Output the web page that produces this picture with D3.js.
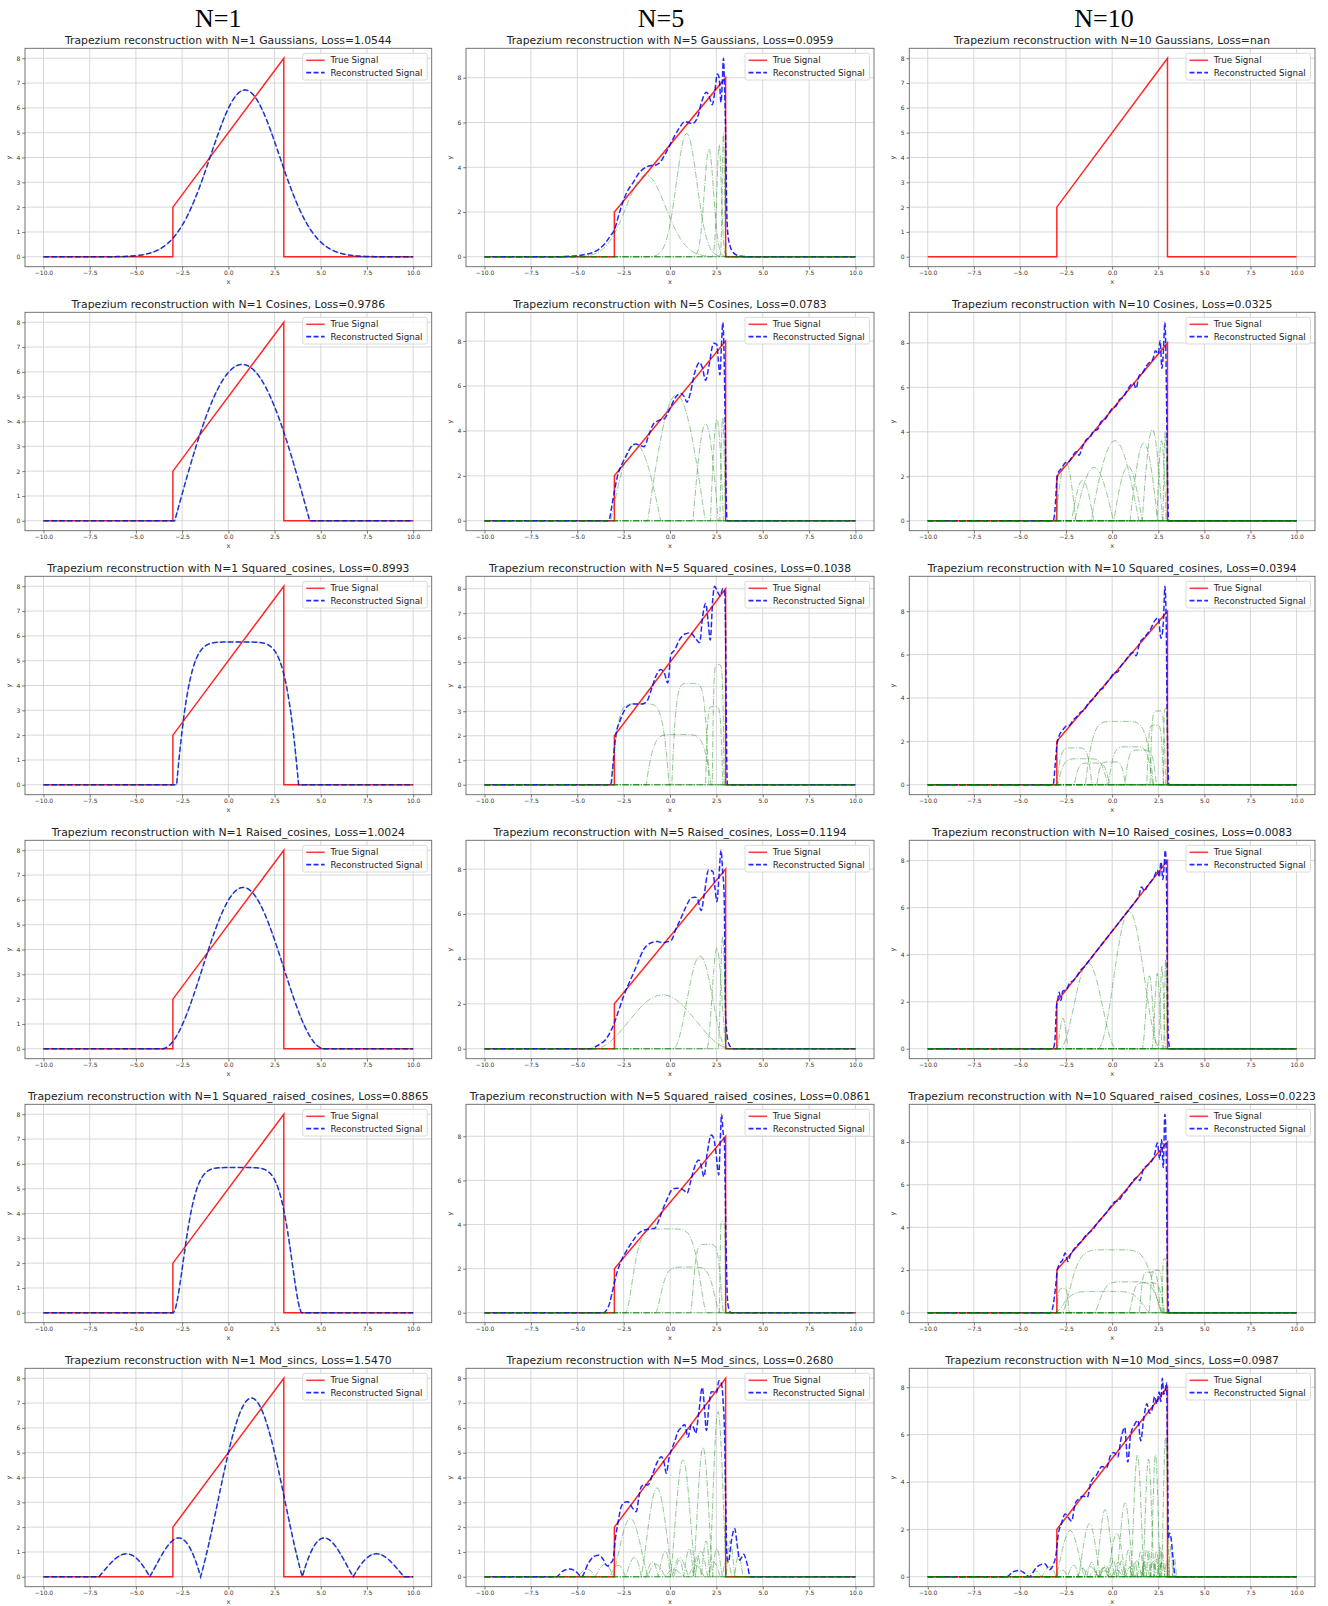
<!DOCTYPE html>
<html><head><meta charset="utf-8">
<script src="https://cdn.jsdelivr.net/npm/d3@7"></script>
<style>body{margin:0;background:#fff}svg{display:block}</style>
</head><body>
<svg id="c" width="1328" height="1606"></svg>
<script>
// ---------------- DATA ----------------
const columnLabels = ["N=1", "N=5", "N=10"];
const columnN = [1, 5, 10];
const families = ["Gaussians", "Cosines", "Squared_cosines", "Raised_cosines", "Squared_raised_cosines", "Mod_sincs"];
const losses = [
  ["1.0544", "0.0959", "nan"],
  ["0.9786", "0.0783", "0.0325"],
  ["0.8993", "0.1038", "0.0394"],
  ["1.0024", "0.1194", "0.0083"],
  ["0.8865", "0.0861", "0.0223"],
  ["1.5470", "0.2680", "0.0987"]
];
const xTicks = [-10, -7.5, -5, -2.5, 0, 2.5, 5, 7.5, 10];
const yTicksInt = [0, 1, 2, 3, 4, 5, 6, 7, 8];
const yTicksEven = [0, 2, 4, 6, 8];
const yTickKind = [
  ["int", "even", "int"],
  ["int", "even", "even"],
  ["int", "int", "even"],
  ["int", "even", "even"],
  ["int", "even", "even"],
  ["int", "int", "even"]
];
// true trapezium signal
const trueSignal = [[-10, 0], [-3, 0], [-3, 2], [3, 8], [3, 0], [10, 0]];

// components: [centre, amplitude, width]
const compsGaussN1 = [[0.9, 6.72, 1.86]];
const compsGaussN5 = [[-1.3, 3.65, 1.07], [0.9, 5.5, 0.55], [2.1, 4.8, 0.25], [2.65, 5.0, 0.12], [2.88, 5.5, 0.06]];
const compsGaussN10 = [];
const compsCosN1 = [[0.75, 6.3, 3.65]];
const compsCosN5 = [[-1.85, 3.4, 1.35], [0.35, 5.6, 1.55], [1.92, 4.32, 0.68], [2.53, 4.5, 0.35], [2.84, 4.6, 0.15]];
const compsCosN10 = [[-2.52, 2.65, 0.55], [-1.6, 1.82, 0.6], [-0.98, 2.4, 1.05], [0.15, 3.6, 1.3], [0.86, 2.45, 0.77], [1.72, 3.5, 0.75], [2.18, 4.1, 0.55], [2.68, 3.6, 0.25], [2.88, 4.0, 0.12]];
const compsSqCosN1 = [[0.5, 5.75, 3.3]];
const compsSqCosN5 = [[-1.6, 3.3, 1.55], [0.47, 2.05, 1.75], [1.1, 4.13, 1.0], [2.38, 3.2, 0.46], [2.6, 4.9, 0.32]];
const compsSqCosN10 = [[-2.05, 1.7, 0.95], [-1.6, 1.2, 1.35], [-1.1, 1.0, 0.95], [-0.06, 1.05, 0.77], [0.4, 2.92, 1.85], [1.0, 1.75, 1.2], [1.55, 1.6, 0.85], [2.48, 3.4, 0.42], [2.33, 2.75, 0.45], [2.9, 3.5, 0.12]];
const compsRaisedN1 = [[0.8, 6.5, 4.4]];
const compsRaisedN5 = [[-0.4, 2.4, 3.7], [1.62, 4.13, 1.45], [2.53, 4.48, 0.55], [2.84, 5.0, 0.25]];
const compsRaisedN10 = [[-1.3, 3.65, 1.55], [0.92, 5.85, 1.7], [-2.67, 1.3, 0.35], [2.02, 3.1, 0.4], [2.45, 3.2, 0.3], [2.7, 3.5, 0.2], [2.9, 3.8, 0.12]];
const compsSqRaisedN1 = [[0.5, 5.85, 3.5]];
const compsSqRaisedN5 = [[-0.2, 3.8, 2.2], [0.95, 2.07, 1.75], [2.0, 3.1, 0.9], [2.84, 4.13, 0.18]];
const compsSqRaisedN10 = [[0, 2.95, 2.75], [0.9, 1.45, 1.9], [-0.5, 1.0, 2.6], [-2.67, 1.13, 0.35], [2.05, 1.9, 0.6], [2.4, 2.0, 0.4], [2.85, 2.53, 0.15], [1.9, 1.4, 1.0]];
const compsModN1 = [[1.25, 7.2, 2.75]];
const compsModN5 = [[-2.14, 2.35, 0.95], [-0.7, 3.58, 0.85], [0.7, 4.7, 0.67], [1.78, 5.21, 0.52], [2.59, 6.65, 0.45]];
const compsModN10 = [[-2.28, 1.95, 0.77], [-1.23, 2.24, 0.6], [-0.38, 2.83, 0.5], [0.25, 1.84, 0.5], [0.7, 3.12, 0.45], [1.37, 5.14, 0.35], [1.97, 4.96, 0.3], [2.35, 5.15, 0.25], [2.89, 5.85, 0.2]];

// reconstructed signals: [x, y]
const reconGaussN5 = [[-10,0],[-6,0],[-5.5,0.02],[-5,0.05],[-4.5,0.12],[-4,0.25],[-3.5,0.6],[-3.2,0.95],[-3,1.2],[-2.75,1.9],[-2.5,2.54],[-2.25,3.0],[-2,3.3],[-1.75,3.65],[-1.5,3.88],[-1.25,4.02],[-1,4.08],[-0.75,4.1],[-0.5,4.25],[-0.25,4.6],[0,5.0],[0.25,5.4],[0.5,5.75],[0.8,6.04],[1.0,6.0],[1.2,5.94],[1.5,6.27],[1.7,6.9],[1.96,7.35],[2.1,7.2],[2.28,6.79],[2.42,7.4],[2.55,8.16],[2.65,8.0],[2.75,6.9],[2.82,7.8],[2.88,8.87],[2.94,7.6],[3.0,5.5],[3.05,2.5],[3.12,1.0],[3.25,0.45],[3.4,0.2],[3.6,0.07],[4.0,0.01],[4.5,0],[10,0]];
const reconCosN5 = [[-10,0],[-3.3,0],[-3.15,0.6],[-3.0,1.3],[-2.8,2.1],[-2.6,2.5],[-2.3,3.0],[-2.05,3.35],[-1.85,3.42],[-1.6,3.35],[-1.4,3.3],[-1.15,3.8],[-0.9,4.3],[-0.6,4.47],[-0.3,4.55],[0,5.0],[0.3,5.5],[0.6,5.67],[0.75,5.55],[0.92,5.28],[1.1,5.7],[1.35,6.65],[1.6,7.05],[1.75,6.8],[1.92,6.25],[2.1,6.9],[2.35,7.9],[2.52,7.85],[2.6,7.2],[2.69,6.5],[2.78,7.9],[2.85,8.84],[2.92,7.2],[2.98,4.0],[3.03,1.0],[3.08,0],[10,0]];
const reconCosN10 = [[-10,0],[-3.2,0],[-3.1,0.5],[-3.0,1.8],[-2.9,2.2],[-2.75,2.35],[-2.55,2.6],[-2.35,2.65],[-2.15,2.9],[-1.95,3.1],[-1.8,2.95],[-1.6,3.35],[-1.4,3.65],[-1.2,3.75],[-1.0,4.05],[-0.8,4.1],[-0.6,4.45],[-0.4,4.55],[-0.2,4.8],[0,5.05],[0.2,5.15],[0.4,5.45],[0.6,5.55],[0.8,5.85],[1.0,6.1],[1.15,6.2],[1.3,5.95],[1.45,6.5],[1.65,6.65],[1.85,6.95],[2.05,7.15],[2.2,7.25],[2.35,7.65],[2.5,7.5],[2.6,8.1],[2.7,6.85],[2.78,7.6],[2.86,8.93],[2.92,7.3],[2.97,4.0],[3.02,1.0],[3.06,0],[10,0]];
const reconSqCosN5 = [[-10,0],[-3.2,0],[-3.1,0.6],[-3.0,1.5],[-2.9,2.1],[-2.7,2.6],[-2.45,3.05],[-2.2,3.25],[-1.9,3.3],[-1.5,3.3],[-1.25,3.4],[-1.0,3.9],[-0.75,4.45],[-0.5,4.7],[-0.3,4.55],[-0.12,4.15],[0.05,5.3],[0.25,5.5],[0.5,5.9],[0.8,6.15],[1.1,6.2],[1.35,6.0],[1.6,5.8],[1.75,6.8],[1.92,7.4],[2.05,6.7],[2.17,5.9],[2.3,7.5],[2.4,8.1],[2.55,7.9],[2.7,7.7],[2.85,8.0],[2.95,7.85],[3.0,6.0],[3.05,1.5],[3.1,0],[10,0]];
const reconSqCosN10 = [[-10,0],[-3.2,0],[-3.1,0.8],[-3.0,1.8],[-2.9,2.2],[-2.7,2.5],[-2.5,2.7],[-2.3,2.75],[-2.1,3.0],[-1.9,3.15],[-1.7,3.35],[-1.5,3.45],[-1.3,3.75],[-1.1,3.9],[-0.9,4.1],[-0.7,4.35],[-0.5,4.45],[-0.3,4.7],[-0.1,4.9],[0.1,5.15],[0.3,5.2],[0.5,5.5],[0.7,5.7],[0.9,5.95],[1.1,6.1],[1.3,5.95],[1.5,6.55],[1.7,6.75],[1.9,6.95],[2.1,7.2],[2.3,7.55],[2.5,7.7],[2.65,6.75],[2.78,7.5],[2.86,9.15],[2.93,7.6],[2.98,3.5],[3.03,0.8],[3.08,0],[10,0]];
const reconRaisedN5 = [[-10,0],[-4.3,0],[-4.0,0.1],[-3.7,0.25],[-3.5,0.38],[-3.25,0.7],[-3.0,1.15],[-2.75,1.75],[-2.5,2.35],[-2.25,2.85],[-2.05,3.22],[-1.75,3.8],[-1.43,4.41],[-1.07,4.7],[-0.67,4.78],[-0.4,4.72],[-0.2,4.75],[0.09,4.85],[0.3,5.3],[0.55,5.74],[0.85,6.3],[1.16,6.73],[1.35,6.75],[1.47,6.7],[1.68,6.15],[1.85,6.9],[2.08,7.96],[2.32,7.88],[2.42,7.2],[2.53,6.55],[2.65,7.8],[2.75,8.84],[2.84,7.9],[2.92,6.8],[3.0,1.45],[3.15,0.27],[3.3,0.06],[3.45,0],[10,0]];
const reconRaisedN10 = [[-10,0],[-3.2,0],[-3.1,0.4],[-3.02,1.8],[-2.95,2.1],[-2.87,2.4],[-2.78,2.05],[-2.68,2.45],[-2.5,2.5],[-2.3,2.8],[-2.1,2.9],[-1.9,3.1],[-1.7,3.35],[-1.5,3.5],[-1.3,3.7],[-1.1,3.9],[-0.9,4.1],[-0.7,4.3],[-0.5,4.5],[-0.3,4.7],[-0.1,4.9],[0.1,5.1],[0.3,5.3],[0.5,5.5],[0.7,5.7],[0.9,5.9],[1.1,6.1],[1.3,6.3],[1.45,6.5],[1.6,6.88],[1.75,6.7],[1.9,6.9],[2.1,7.1],[2.3,7.35],[2.45,7.6],[2.55,7.3],[2.65,7.95],[2.75,7.2],[2.82,7.8],[2.88,8.44],[2.94,7.6],[2.98,4.0],[3.03,0.8],[3.08,0.2],[3.15,0],[10,0]];
const reconSqRaisedN5 = [[-10,0],[-3.6,0],[-3.42,0.12],[-3.25,0.45],[-3.11,0.95],[-2.9,1.7],[-2.66,2.3],[-2.35,2.8],[-2.05,3.2],[-1.59,3.67],[-1.13,3.8],[-0.82,3.83],[-0.6,4.2],[-0.37,4.73],[-0.1,5.25],[0.09,5.57],[0.35,5.65],[0.55,5.64],[0.75,5.55],[0.92,5.42],[1.1,5.9],[1.25,6.4],[1.45,6.85],[1.56,6.93],[1.7,6.6],[1.83,6.17],[2.0,7.2],[2.23,8.06],[2.36,7.9],[2.46,7.4],[2.63,6.25],[2.71,7.8],[2.78,9.0],[2.86,8.2],[2.93,7.76],[3.02,3.2],[3.1,0.6],[3.18,0.15],[3.3,0],[10,0]];
const reconSqRaisedN10 = [[-10,0],[-3.35,0],[-3.2,0.35],[-3.08,1.1],[-2.97,2.0],[-2.85,2.3],[-2.7,2.45],[-2.55,2.8],[-2.4,2.4],[-2.25,2.75],[-2.05,3.0],[-1.85,3.2],[-1.65,3.35],[-1.45,3.6],[-1.25,3.75],[-1.05,3.9],[-0.85,4.15],[-0.65,4.35],[-0.45,4.55],[-0.25,4.75],[-0.05,5.0],[0.15,5.2],[0.35,5.25],[0.55,5.5],[0.75,5.7],[0.95,5.95],[1.15,6.2],[1.35,6.35],[1.5,6.2],[1.7,6.75],[1.9,6.9],[2.1,7.05],[2.3,7.4],[2.45,7.95],[2.58,7.2],[2.68,8.1],[2.77,6.8],[2.86,9.3],[2.93,7.6],[2.98,3.0],[3.03,0.5],[3.08,0],[10,0]];
const reconModN5 = [[-10,0],[-6.13,0],[-5.8,0.22],[-5.41,0.31],[-5.05,0.2],[-4.78,0],[-4.4,0.55],[-4.1,0.82],[-3.83,0.87],[-3.6,0.7],[-3.38,0.43],[-3.2,0.55],[-3.07,0.7],[-2.95,1.5],[-2.8,2.2],[-2.63,2.82],[-2.45,3.0],[-2.27,3.02],[-2.05,2.8],[-1.82,2.62],[-1.68,3.2],[-1.55,3.63],[-1.35,3.72],[-1.19,3.7],[-0.92,4.17],[-0.7,4.6],[-0.47,4.84],[-0.32,4.6],[-0.2,4.17],[-0.05,4.8],[0.07,5.1],[0.25,5.45],[0.43,5.85],[0.6,6.0],[0.79,6.14],[0.97,5.62],[1.15,6.12],[1.28,6.0],[1.38,5.78],[1.55,6.6],[1.74,7.63],[1.86,6.8],[1.96,5.89],[2.1,6.9],[2.23,7.46],[2.36,7.45],[2.5,7.4],[2.64,7.9],[2.77,7.8],[2.86,7.12],[2.95,5.5],[3.0,3.2],[3.07,0.8],[3.15,0.6],[3.3,1.4],[3.49,1.95],[3.62,1.3],[3.76,0.67],[3.97,0.91],[4.15,0.55],[4.33,0],[10,0]];
const reconModN10 = [[-10,0],[-5.71,0],[-5.4,0.2],[-5.05,0.27],[-4.75,0.15],[-4.5,0],[-4.1,0.4],[-3.65,0.55],[-3.4,0.3],[-3.2,0.5],[-3.05,0.9],[-2.92,1.8],[-2.75,2.25],[-2.55,2.65],[-2.38,2.5],[-2.2,2.35],[-2.0,3.1],[-1.8,3.3],[-1.55,3.4],[-1.35,3.35],[-1.15,4.0],[-0.85,4.3],[-0.55,4.65],[-0.3,4.6],[-0.1,5.1],[0.1,5.25],[0.3,5.05],[0.5,5.9],[0.68,6.3],[0.85,4.84],[1.0,6.0],[1.2,6.4],[1.4,6.6],[1.55,5.74],[1.7,6.6],[1.88,7.3],[2.03,6.9],[2.18,7.1],[2.3,7.6],[2.43,7.3],[2.55,7.8],[2.64,7.4],[2.72,8.38],[2.8,7.7],[2.88,7.9],[2.95,8.2],[3.0,5.0],[3.05,1.6],[3.1,1.84],[3.18,1.7],[3.3,0.8],[3.42,0],[10,0]];

// ---------------- TABLE (built from the arrays) ----------------
const compTable = [
  [compsGaussN1, compsGaussN5, compsGaussN10],
  [compsCosN1, compsCosN5, compsCosN10],
  [compsSqCosN1, compsSqCosN5, compsSqCosN10],
  [compsRaisedN1, compsRaisedN5, compsRaisedN10],
  [compsSqRaisedN1, compsSqRaisedN5, compsSqRaisedN10],
  [compsModN1, compsModN5, compsModN10]
];
// "sum" = reconstruction is the single component; null = nan (not drawn)
const reconTable = [
  ["sum", reconGaussN5, null],
  ["sum", reconCosN5, reconCosN10],
  ["sum", reconSqCosN5, reconSqCosN10],
  ["sum", reconRaisedN5, reconRaisedN10],
  ["sum", reconSqRaisedN5, reconSqRaisedN10],
  ["sum", reconModN5, reconModN10]
];

const basis = {
  Gaussians: (x, c, a, w) => { const t = (x - c) / w; return Math.abs(t) > 7 ? 0 : a * Math.exp(-t * t / 2); },
  Cosines: (x, c, a, w) => { const t = (x - c) / w; return Math.abs(t) >= 1 ? 0 : a * Math.cos(Math.PI * t / 2); },
  Squared_cosines: (x, c, a, w) => { const t = Math.abs((x - c) / w); return t >= 1 ? 0 : a * Math.cos(Math.PI / 2 * t * t * t); },
  Raised_cosines: (x, c, a, w) => { const t = (x - c) / w; return Math.abs(t) >= 1 ? 0 : a * (1 + Math.cos(Math.PI * t)) / 2; },
  Squared_raised_cosines: (x, c, a, w) => { const t = Math.abs((x - c) / w); return t >= 1 ? 0 : a * (1 + Math.cos(Math.PI * t * t * t)) / 2; },
  Mod_sincs: (x, c, a, w) => { const t = (x - c) / w; if (Math.abs(t) >= 3) return 0; if (Math.abs(t) < 1e-9) return a; return a * Math.abs(Math.sin(Math.PI * t) / (Math.PI * t)); }
};

// ---------------- LAYOUT ----------------
const colLeft = [25, 466, 909.3];
const colWidth = [406.7, 408, 405.7];
const rowTop0 = 48.3, rowPitch = 264, panelH = 218.4;
const headerX = [218.3, 661, 1104];
const FONT = "'DejaVu Sans', sans-serif";

const svg = d3.select("#c");
svg.append("rect").attr("width", 1328).attr("height", 1606).attr("fill", "#fff");

columnLabels.forEach((t, i) => {
  svg.append("text").attr("x", headerX[i]).attr("y", 27)
    .attr("text-anchor", "middle").attr("font-family", "'Liberation Serif', serif")
    .attr("font-size", 26).attr("fill", "#000").text(t);
});

const grid = d3.range(0, 4001).map(i => -10 + i * 0.005);

function sampleFn(fn) {
  const vals = grid.map(fn);
  const pts = [];
  for (let i = 0; i < grid.length; i++) {
    const nz = v => v > 1e-5;
    if (i === 0 || i === grid.length - 1 || nz(vals[i]) || nz(vals[i - 1]) || nz(vals[i + 1])) pts.push([grid[i], vals[i]]);
  }
  return pts;
}

families.forEach((fam, r) => {
  columnN.forEach((n, c) => {
    const left = colLeft[c], W = colWidth[c], top = rowTop0 + r * rowPitch, H = panelH;
    const f = basis[fam];
    const comps = compTable[r][c];
    const compPts = comps.map(p => sampleFn(x => f(x, p[0], p[1], p[2])));
    let recon = reconTable[r][c];
    if (recon === "sum") recon = sampleFn(x => d3.sum(comps, p => f(x, p[0], p[1], p[2])));
    const allY = [...trueSignal.map(d => d[1])];
    if (recon) recon.forEach(d => allY.push(d[1]));
    compPts.forEach(ps => ps.forEach(d => allY.push(d[1])));
    const ymin = d3.min(allY), ymax = d3.max(allY), pad = 0.05 * (ymax - ymin);
    const x = d3.scaleLinear().domain([-11, 11]).range([left, left + W]);
    const y = d3.scaleLinear().domain([ymin - pad, ymax + pad]).range([top + H, top]);
    const yTicks = yTickKind[r][c] === "int" ? yTicksInt : yTicksEven;

    const g = svg.append("g");
    // title
    g.append("text").attr("x", left + W / 2).attr("y", top - 4)
      .attr("text-anchor", "middle").attr("font-family", FONT).attr("font-size", 10.8)
      .attr("fill", "#222")
      .text(`Trapezium reconstruction with N=${n} ${fam}, Loss=${losses[r][c]}`);
    // grid
    g.append("g").selectAll("line").data(xTicks).join("line")
      .attr("x1", d => x(d)).attr("x2", d => x(d)).attr("y1", top).attr("y2", top + H)
      .attr("stroke", "#d4d4d4").attr("stroke-width", 0.9);
    g.append("g").selectAll("line").data(yTicks).join("line")
      .attr("x1", left).attr("x2", left + W).attr("y1", d => y(d)).attr("y2", d => y(d))
      .attr("stroke", "#d4d4d4").attr("stroke-width", 0.9);

    const clipId = `clip${r}_${c}`;
    svg.append("clipPath").attr("id", clipId).append("rect")
      .attr("x", left).attr("y", top).attr("width", W).attr("height", H);
    const plot = g.append("g").attr("clip-path", `url(#${clipId})`);
    const line = d3.line().x(d => x(d[0])).y(d => y(d[1]));
    const lineSmooth = d3.line().x(d => x(d[0])).y(d => y(d[1])).curve(d3.curveMonotoneX);

    plot.append("path").attr("d", line(trueSignal)).attr("fill", "none")
      .attr("stroke", "#ff0000").attr("stroke-opacity", 0.85).attr("stroke-width", 1.5);
    if (recon) {
      const isSum = reconTable[r][c] === "sum";
      plot.append("path").attr("d", (isSum ? line : lineSmooth)(recon)).attr("fill", "none")
        .attr("stroke", "#0000ff").attr("stroke-opacity", 0.85).attr("stroke-width", 1.5)
        .attr("stroke-dasharray", "5.5,2.4");
    }
    compPts.forEach(ps => {
      plot.append("path").attr("d", line(ps)).attr("fill", "none")
        .attr("stroke", "#008000").attr("stroke-opacity", 0.45).attr("stroke-width", 1)
        .attr("stroke-dasharray", "6.4,1.6,1,1.6");
    });

    // frame
    g.append("rect").attr("x", left).attr("y", top).attr("width", W).attr("height", H)
      .attr("fill", "none").attr("stroke", "#666").attr("stroke-width", 0.9);

    // axes
    const xa = g.append("g").attr("transform", `translate(0,${top + H})`)
      .call(d3.axisBottom(x).tickValues(xTicks).tickFormat(d3.format(".1f")).tickSizeInner(2.8).tickSizeOuter(0).tickPadding(1.2));
    const ya = g.append("g").attr("transform", `translate(${left},0)`)
      .call(d3.axisLeft(y).tickValues(yTicks).tickFormat(d3.format("d")).tickSizeInner(2.8).tickSizeOuter(0).tickPadding(2));
    [xa, ya].forEach(a => {
      a.select(".domain").remove();
      a.selectAll("line").attr("stroke", "#555").attr("stroke-width", 0.8);
      a.selectAll("text").attr("font-family", FONT).attr("font-size", 6).attr("fill", "#333");
    });
    g.append("text").attr("x", left + W / 2).attr("y", top + H + 17.5).attr("text-anchor", "middle")
      .attr("font-family", FONT).attr("font-size", 6.5).attr("fill", "#333").text("x");
    g.append("text").attr("transform", `translate(${left - 14},${top + H / 2}) rotate(-90)`)
      .attr("text-anchor", "middle").attr("font-family", FONT).attr("font-size", 6.5).attr("fill", "#333").text("y");

    // legend
    const lx = left + W - 129, ly = top + 5;
    const lg = g.append("g");
    lg.append("rect").attr("x", lx).attr("y", ly).attr("width", 124.5).attr("height", 26.7)
      .attr("rx", 2).attr("fill", "#fff").attr("fill-opacity", 0.85).attr("stroke", "#d0d0d0").attr("stroke-width", 0.8);
    lg.append("line").attr("x1", lx + 3.5).attr("x2", lx + 22).attr("y1", ly + 7).attr("y2", ly + 7)
      .attr("stroke", "#ff0000").attr("stroke-opacity", 0.75).attr("stroke-width", 1.6);
    lg.append("line").attr("x1", lx + 3.5).attr("x2", lx + 22).attr("y1", ly + 19.3).attr("y2", ly + 19.3)
      .attr("stroke", "#0000ff").attr("stroke-opacity", 0.85).attr("stroke-width", 1.6).attr("stroke-dasharray", "5,2.4");
    lg.append("text").attr("x", lx + 27.7).attr("y", ly + 7).attr("dy", "0.35em")
      .attr("font-family", FONT).attr("font-size", 8.7).attr("fill", "#222").text("True Signal");
    lg.append("text").attr("x", lx + 27.7).attr("y", ly + 19.3).attr("dy", "0.35em")
      .attr("font-family", FONT).attr("font-size", 8.7).attr("fill", "#222").text("Reconstructed Signal");
  });
});
</script>
</body></html>
